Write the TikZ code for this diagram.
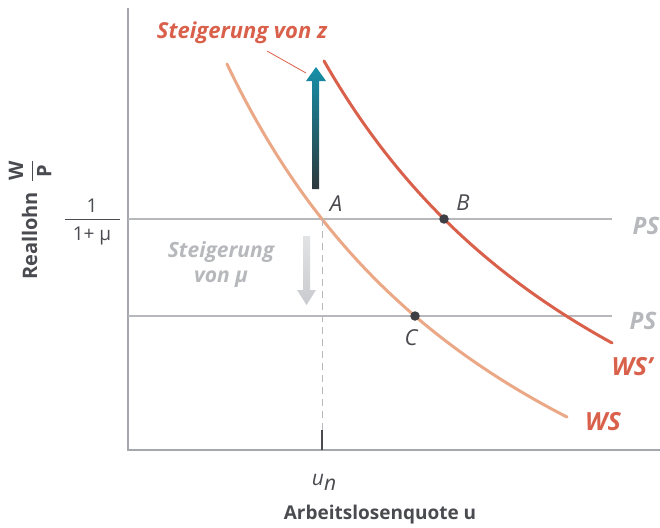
\documentclass[tikz,border=0pt]{standalone}
\usepackage{fontspec}
\setmainfont{Open Sans}
\definecolor{axisgray}{HTML}{A4A7AC}
\definecolor{psgray}{HTML}{B6B8BC}
\definecolor{wsorange}{HTML}{EBA887}
\definecolor{wsred}{HTML}{D9604A}
\definecolor{dotgray}{HTML}{3E3F44}
\definecolor{labgray}{HTML}{4A4B50}
\definecolor{tealtop}{HTML}{1690A8}
\definecolor{tealbot}{HTML}{2C383D}
\begin{document}
\begin{tikzpicture}[x=1pt,y=-1pt,
    axis/.style={draw=axisgray,line width=1.1pt},
    psline/.style={draw=psgray,line width=2pt},
    wsline/.style={draw=wsorange,line width=3pt,line cap=round},
    wsshift/.style={draw=wsred,line width=3pt,line cap=round},
    point/.style={circle,fill=dotgray,minimum size=9.5pt,inner sep=0pt},
    pointlab/.style={font=\fontsize{22}{22}\selectfont\itshape,text=labgray},
    curvelab/.style={font=\fontsize{25}{25}\selectfont\bfseries\itshape,text=wsred},
    pslab/.style={font=\fontsize{24}{24}\selectfont\bfseries\itshape,text=psgray},
    axislab/.style={font=\fontsize{19}{19}\selectfont\bfseries,text=labgray}
]
\useasboundingbox (0,0) rectangle (660,527);

% axes
\coordinate (O)  at (128,450);
\coordinate (Yt) at (128,8);
\coordinate (Xr) at (660,450);
\draw[axis] (Yt) -- (O) -- (Xr);

% price setting lines
\coordinate (PSa) at (128,219);
\coordinate (PSb) at (612,219);
\coordinate (PSc) at (128,316);
\coordinate (PSd) at (612,316);
\draw[psline] (PSa) -- (PSb);
\draw[psline] (PSc) -- (PSd);
\node[pslab] (ps1) at (646,226) {PS};
\node[pslab] (ps2) at (643,321) {PS};

% tick 1/(1+mu)
\coordinate (Ta) at (65,219);
\coordinate (Tb) at (120,219);
\draw[draw=labgray,line width=0.8pt] (Ta) -- (Tb);
\node[text=labgray,font=\fontsize{19}{19}\selectfont] (one) at (92,206) {1};
\node[text=labgray,font=\fontsize{19}{19}\selectfont] (onemu) at (92,236) {1+ μ};

% wage setting curves (hyperbolas)
\draw[wsline] plot[domain=227:567,samples=80] (\x,{763.5-2334.1/((\x+106.7)/100)});
\draw[wsshift] plot[domain=324:612,samples=80] (\x,{702.7-2357.8/((\x+43.4)/100)});
\node[curvelab] (ws)  at (603,422) {WS};
\node[curvelab] (ws2) at (632,367) {WS’};

% u_n
\coordinate (A) at (322,219);
\coordinate (Ub) at (322,430);
\coordinate (Ux) at (322,450);
\draw[draw=psgray,line width=1pt,dash pattern=on 7pt off 5pt] (A) -- (Ub);
\draw[draw=labgray,line width=1.2pt] (Ub) -- (Ux);
\node[text=labgray,font=\fontsize{21}{21}\selectfont\itshape] (un) at (324,482) {u\raisebox{-0.45ex}{n}};

% points
\node[point] (B) at (444,219) {};
\node[point] (C) at (415,316) {};
\node[pointlab] (Alab) at (336,204) {A};
\node[pointlab] (Blab) at (463,203) {B};
\node[pointlab] (Clab) at (411,338) {C};

% shift arrows
\shade[top color=tealtop,bottom color=tealbot]
  (312,189) -- (312,81) -- (306,81) -- (316,67) -- (326,81) -- (319,81) -- (319,189) -- cycle;
\shade[top color=psgray!40,bottom color=psgray!110!black]
  (303,236) -- (303,290) -- (297,290) -- (306.5,305) -- (316,290) -- (310,290) -- (310,236) -- cycle;

\node[font=\fontsize{22}{22}\selectfont\bfseries\itshape,text=wsred] (stz) at (242,33) {Steigerung von z};
\coordinate (Za) at (267,51);
\coordinate (Zb) at (306,73);
\draw[draw=wsred,line width=0.8pt] (Za) -- (Zb);
\node[font=\fontsize{21}{25}\selectfont\bfseries\itshape,text=psgray,align=center] (stmu) at (221,265) {Steigerung\\von μ};

% axis labels
\node[axislab] (xlab) at (380,515) {Arbeitslosenquote u};
\node[axislab,font=\fontsize{20}{20}\selectfont\bfseries,rotate=90] (ylab) at (30,220) {Reallohn\enspace$\displaystyle\frac{\textbf{W}}{\textbf{P}}$};
\end{tikzpicture}
\end{document}
